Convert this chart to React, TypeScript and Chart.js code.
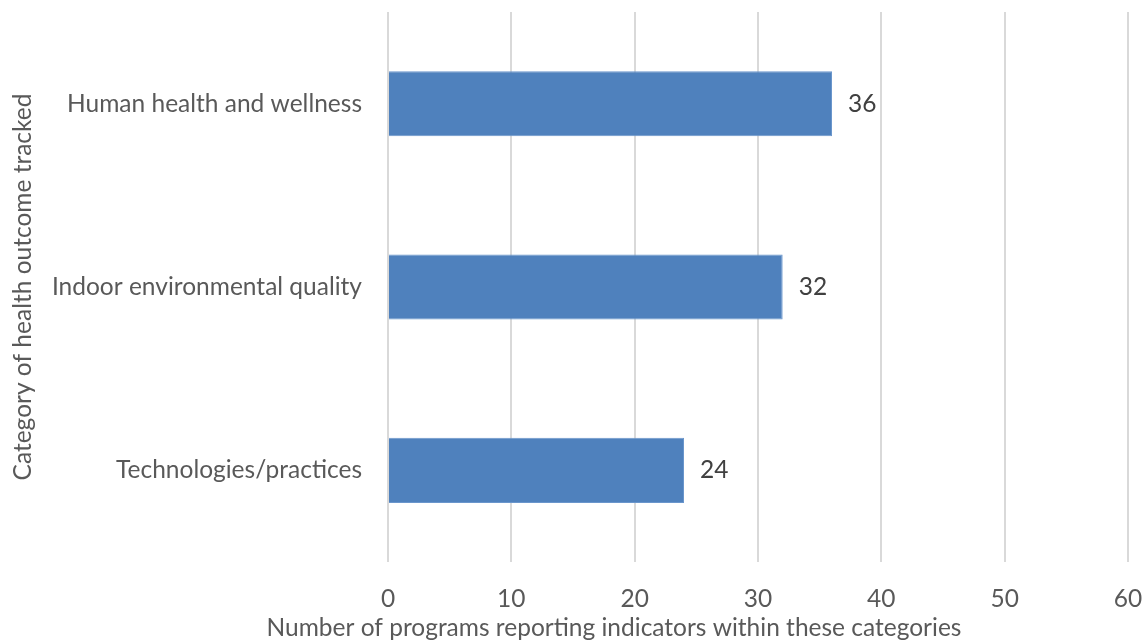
import React, { useEffect, useRef } from "react";
import { Chart, registerables } from "chart.js";

Chart.register(...registerables);

const categories = ["Human health and wellness", "Indoor environmental quality", "Technologies/practices"];
const values = [36, 32, 24];
const xTitle = "Number of programs reporting indicators within these categories";
const yTitle = "Category of health outcome tracked";

const FONT = "Lato, 'Open Sans', sans-serif";
const FS = 24.5;

const labelPlugin = {
  id: "barLabels",
  afterDatasetsDraw(chart: any) {
    const ctx = chart.ctx;
    const meta = chart.getDatasetMeta(0);
    ctx.save();
    ctx.font = `${FS}px ${FONT}`;
    ctx.fillStyle = "#404040";
    ctx.textAlign = "left";
    ctx.textBaseline = "middle";
    meta.data.forEach((bar: any, i: number) => {
      ctx.fillText(String(values[i]), bar.x + 16, bar.y);
    });
    ctx.restore();
  },
  afterDraw(chart: any) {
    const ctx = chart.ctx;
    ctx.save();
    ctx.font = `${FS}px ${FONT}`;
    ctx.fillStyle = "#595959";
    ctx.textAlign = "center";
    ctx.textBaseline = "middle";
    ctx.fillText(xTitle, 614, 628);
    ctx.restore();
  },
};

export default function App() {
  const ref = useRef<HTMLCanvasElement>(null);
  useEffect(() => {
    document.body.style.margin = "0";
    const chart = new Chart(ref.current!, {
      type: "bar",
      data: {
        labels: categories,
        datasets: [
          {
            data: values,
            backgroundColor: "#4F81BD",
            borderColor: "#6A96CC",
            borderWidth: 1,
            categoryPercentage: 0.71,
            barPercentage: 0.5,
          },
        ],
      },
      options: {
        indexAxis: "y",
        animation: false,
        responsive: false,
        maintainAspectRatio: false,
        layout: { padding: { top: 12, right: 19, left: 0, bottom: 0 } },
        plugins: { legend: { display: false }, tooltip: { enabled: false } },
        scales: {
          x: {
            min: 0,
            max: 60,
            afterFit: (s: any) => { s.height = 79; s.paddingLeft = 0; s.paddingRight = 0; },
            ticks: { stepSize: 10, color: "#595959", font: { size: FS, family: FONT }, padding: 22, maxRotation: 0 },
            grid: { color: "#D9D9D9", lineWidth: 2, drawTicks: false },
            border: { display: false },
            title: { display: false, text: xTitle },
          },
          y: {
            afterFit: (s: any) => { s.width = 388; s.paddingTop = 0; s.paddingBottom = 0; },
            ticks: { color: "#595959", font: { size: FS, family: FONT }, padding: 26 },
            grid: { display: false, drawTicks: false },
            border: { display: false },
            title: { display: true, text: yTitle, color: "#595959", font: { size: FS, family: FONT }, padding: { top: 8, bottom: 0 } },
          },
        },
      },
      plugins: [labelPlugin],
    });
    return () => chart.destroy();
  }, []);
  return (
    <div style={{ width: 1147, height: 641 }}>
      <canvas ref={ref} width={1147} height={641} style={{ display: "block" }} />
    </div>
  );
}
